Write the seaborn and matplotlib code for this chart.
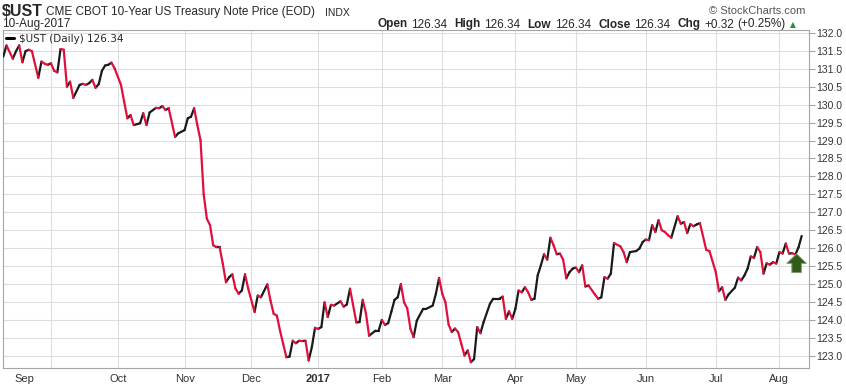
import numpy as np
import pandas as pd
import matplotlib
matplotlib.use('Agg')
import matplotlib.pyplot as plt
from matplotlib.lines import Line2D
import seaborn as sns

# trading calendar of the chart (NYSE holidays inside the window)
start_day = '2016-08-11'
holidays = ['2016-09-05', '2016-11-24', '2016-12-26', '2017-01-02', '2017-01-16',
            '2017-02-20', '2017-04-14', '2017-05-29', '2017-07-04']

# session number (trading days since 11-Aug-2016) and close, read at each turn of the line
session = [0, 1, 3, 4, 5, 6, 7, 8, 9, 11, 12, 13, 14, 15, 16, 17, 18, 19, 20, 21,
           22, 24, 25, 26, 27, 28, 29, 30, 31, 32, 33, 34, 35, 37, 38, 39, 40, 41, 43, 44,
           45, 46, 48, 49, 50, 51, 52, 54, 55, 57, 58, 59, 60, 61, 62, 63, 64, 65, 66, 67,
           68, 69, 70, 71, 72, 73, 74, 75, 76, 77, 79, 80, 81, 83, 84, 85, 86, 87, 88, 89,
           90, 91, 92, 93, 94, 95, 96, 97, 98, 99, 100, 101, 102, 103, 104, 106, 107, 108, 109, 111,
           112, 113, 114, 115, 117, 118, 119, 120, 121, 122, 123, 124, 125, 126, 127, 128, 129, 130, 132, 133,
           135, 136, 137, 138, 139, 140, 141, 142, 143, 144, 145, 146, 147, 148, 149, 150, 151, 153, 154, 156,
           157, 158, 159, 160, 161, 162, 163, 164, 165, 166, 167, 168, 169, 170, 171, 172, 173, 174, 175, 176,
           177, 178, 179, 180, 181, 182, 183, 184, 186, 187, 188, 189, 190, 191, 192, 194, 195, 196, 197, 199,
           200, 201, 202, 203, 204, 205, 206, 207, 208, 209, 210, 212, 213, 214, 215, 216, 217, 218, 219, 221,
           222, 224, 225, 226, 227, 228, 230, 231, 232, 233, 234, 235, 236, 237, 238, 239, 240, 241, 242, 243,
           244, 245, 246, 247, 248, 249, 250, 251]
close = [131.34, 131.65, 131.28, 131.49, 131.65, 131.18, 131.49, 131.53, 131.49, 130.75,
         131.20, 131.14, 131.11, 131.15, 130.94, 130.90, 131.55, 131.53, 130.50, 130.64,
         130.19, 130.55, 130.58, 130.55, 130.60, 130.69, 130.47, 130.57, 130.94, 131.09,
         131.11, 131.17, 131.01, 130.55, 130.08, 129.62, 129.71, 129.43, 129.48, 129.76,
         129.43, 129.78, 129.91, 129.90, 129.96, 129.85, 129.90, 129.10, 129.20, 129.29,
         129.62, 129.66, 129.90, 129.43, 129.01, 127.50, 126.82, 126.64, 126.08, 126.03,
         126.03, 125.57, 125.05, 125.19, 125.27, 124.87, 124.73, 124.82, 125.27, 124.87,
         124.22, 124.68, 124.63, 124.99, 124.54, 124.17, 124.12, 123.70, 123.33, 122.96,
         122.98, 123.42, 123.35, 123.42, 123.41, 123.42, 122.87, 123.24, 123.78, 123.75,
         123.80, 124.49, 124.08, 124.42, 124.40, 124.52, 124.37, 124.43, 124.87, 123.93,
         123.94, 124.56, 124.19, 123.56, 123.70, 123.70, 124.00, 123.86, 123.91, 124.23,
         124.56, 124.63, 125.00, 124.49, 124.32, 123.75, 123.52, 123.98, 124.31, 124.31,
         124.40, 124.73, 125.17, 124.73, 124.49, 123.87, 123.66, 123.76, 123.66, 123.33,
         123.01, 123.15, 122.82, 122.91, 123.80, 123.63, 123.94, 124.45, 124.59, 124.59,
         124.65, 124.03, 124.24, 124.03, 124.31, 124.82, 124.77, 124.91, 124.77, 124.56,
         124.59, 125.24, 125.52, 125.83, 125.68, 126.29, 126.08, 125.83, 125.85, 125.68,
         125.16, 125.33, 125.43, 125.46, 125.33, 125.52, 124.93, 124.96, 124.71, 124.59,
         124.63, 125.19, 125.15, 125.29, 126.14, 126.05, 125.89, 125.61, 125.89, 125.92,
         125.99, 126.17, 126.24, 126.22, 126.64, 126.45, 126.78, 126.50, 126.45, 126.36,
         126.29, 126.89, 126.68, 126.73, 126.42, 126.67, 126.61, 126.66, 126.70, 125.95,
         125.92, 125.33, 124.80, 124.91, 124.56, 124.71, 124.90, 125.18, 125.10, 125.24,
         125.43, 125.77, 125.73, 126.03, 125.89, 125.29, 125.58, 125.54, 125.61, 125.57,
         125.89, 125.85, 126.13, 125.85, 125.86, 125.82, 126.02, 126.34]

month_starts = ['2016-09-01', '2016-10-03', '2016-11-01', '2016-12-01', '2017-01-03', '2017-02-01',
                '2017-03-01', '2017-04-03', '2017-05-01', '2017-06-01', '2017-07-03', '2017-08-01']
month_labels = ['Sep', 'Oct', 'Nov', 'Dec', '2017', 'Feb', 'Mar', 'Apr', 'May', 'Jun', 'Jul', 'Aug']
price_ticks = [123.0, 123.5, 124.0, 124.5, 125.0, 125.5, 126.0, 126.5, 127.0, 127.5,
               128.0, 128.5, 129.0, 129.5, 130.0, 130.5, 131.0, 131.5, 132.0]

# green "up" marker on the last sessions
arrow_session = 249.4
arrow_top, arrow_bottom = 125.84, 125.32

UP_COLOR = '#1a1a1a'
DOWN_COLOR = '#e0103c'
GRID_COLOR = '#dddddd'
FRAME_COLOR = '#a5a5a5'


def main():
    sns.set_style('white')
    plt.rcParams['font.family'] = ['Liberation Sans', 'DejaVu Sans']

    W, H = 846, 384
    fig = plt.figure(figsize=(W / 100, H / 100), dpi=100)
    left, right, top, bottom = 2.5, 809, 30, 368
    ax = fig.add_axes([left / W, 1 - bottom / H, (right - left) / W, (bottom - top) / H])

    # one two-point segment per move, coloured by direction
    rows = []
    for i in range(len(session) - 1):
        d = 'up' if close[i + 1] >= close[i] else 'down'
        rows.append((i, session[i], close[i], d))
        rows.append((i, session[i + 1], close[i + 1], d))
    seg = pd.DataFrame(rows, columns=['seg', 'session', 'close', 'dir'])

    sns.lineplot(data=seg, x='session', y='close', hue='dir', units='seg', estimator=None,
                 palette={'up': UP_COLOR, 'down': DOWN_COLOR}, legend=False,
                 linewidth=1.6, solid_capstyle='round', ax=ax, zorder=3)

    ax.set_xlim(-0.25, 253.3)
    ax.set_ylim(122.66, 132.08)
    ax.set_xlabel('')
    ax.set_ylabel('')

    month_pos = np.busday_count(start_day, month_starts, holidays=holidays)
    label_pos = month_pos.astype(float)
    label_pos[0] = label_pos[0] - 8.5  # first month label sits left of its gridline in the original

    ax.xaxis.remove_overlapping_locs = False
    ax.set_xticks(month_pos)
    ax.set_xticklabels([])
    ax.set_xticks(label_pos, month_labels, minor=True)
    ax.tick_params(axis='x', which='both', length=0)
    ax.tick_params(axis='x', which='minor', labelsize=8, labelcolor='#333333', pad=4)
    for lbl in ax.get_xticklabels(minor=True):
        if lbl.get_text() == '2017':
            lbl.set_fontweight('bold')

    ax.set_yticks(price_ticks)
    ax.set_yticklabels([f'{v:.1f}' for v in price_ticks])
    ax.yaxis.tick_right()
    ax.tick_params(axis='y', which='major', direction='out', length=4, width=0.8,
                   color=FRAME_COLOR, labelsize=7.5, labelcolor='#333333', pad=1.5,
                   left=False, right=True)

    ax.set_axisbelow(True)
    ax.grid(True, which='major', color=GRID_COLOR, linewidth=0.8)
    for sp in ax.spines.values():
        sp.set_color(FRAME_COLOR)
        sp.set_linewidth(0.8)

    ax.annotate('', xy=(arrow_session, arrow_top), xytext=(arrow_session, arrow_bottom),
                arrowprops=dict(arrowstyle='simple,head_length=0.38,head_width=0.78,tail_width=0.38',
                                fc='#2f5d17', ec='#7f9c6c', lw=0.7, shrinkA=0, shrinkB=0,
                                mutation_scale=18),
                zorder=5)

    ax.legend(handles=[Line2D([], [], color='black', lw=2.2)], labels=[r'\$UST (Daily) 126.34'],
              loc='upper left', frameon=False, handlelength=0.8, handletextpad=0.4,
              borderaxespad=0.15, borderpad=0.2, prop={'family': 'DejaVu Sans', 'size': 7.5})

    # header lines
    def fx(px):
        return px / W

    def fy(py):
        return 1 - py / H

    fig.text(fx(2), fy(16), r'\$UST', fontsize=11.5, fontweight='bold', va='baseline')
    fig.text(fx(46), fy(15.5), 'CME CBOT 10-Year US Treasury Note Price (EOD)', fontsize=8.5,
             va='baseline')
    fig.text(fx(325), fy(15.5), 'INDX', fontsize=7.5, va='baseline')
    fig.text(fx(2), fy(27.5), '10-Aug-2017', fontsize=8.5, va='baseline')
    fig.text(fx(805), fy(14), '\u00a9 StockCharts.com', fontsize=8, color='#555555',
             ha='right', va='baseline')

    pieces = [('126.34', 'normal', 4), ('High', 'bold', 7),
              ('126.34', 'normal', 4), ('Low', 'bold', 7), ('126.34', 'normal', 4),
              ('Close', 'bold', 7), ('126.34', 'normal', 4), ('Chg', 'bold', 7),
              ('+0.32', 'normal', 4), ('(+0.25%)', 'normal', 3)]
    prev = fig.text(fx(377), fy(27.5), 'Open', fontsize=8.5, fontweight='bold', va='baseline')
    for txt, weight, gap in pieces:
        prev = ax.annotate(txt, xy=(1, 0), xycoords=prev, xytext=(gap, 0),
                           textcoords='offset pixels', fontsize=8.5, fontweight=weight,
                           ha='left', va='bottom', annotation_clip=False)
    ax.annotate('\u25b2', xy=(1, 0), xycoords=prev, xytext=(4, 1), textcoords='offset pixels',
                fontsize=5.5, color='#2e8b3e', ha='left', va='bottom', family='DejaVu Sans',
                annotation_clip=False)

    fig.savefig('out.png', dpi=100, facecolor='white')
    plt.close(fig)


if __name__ == '__main__':
    main()
